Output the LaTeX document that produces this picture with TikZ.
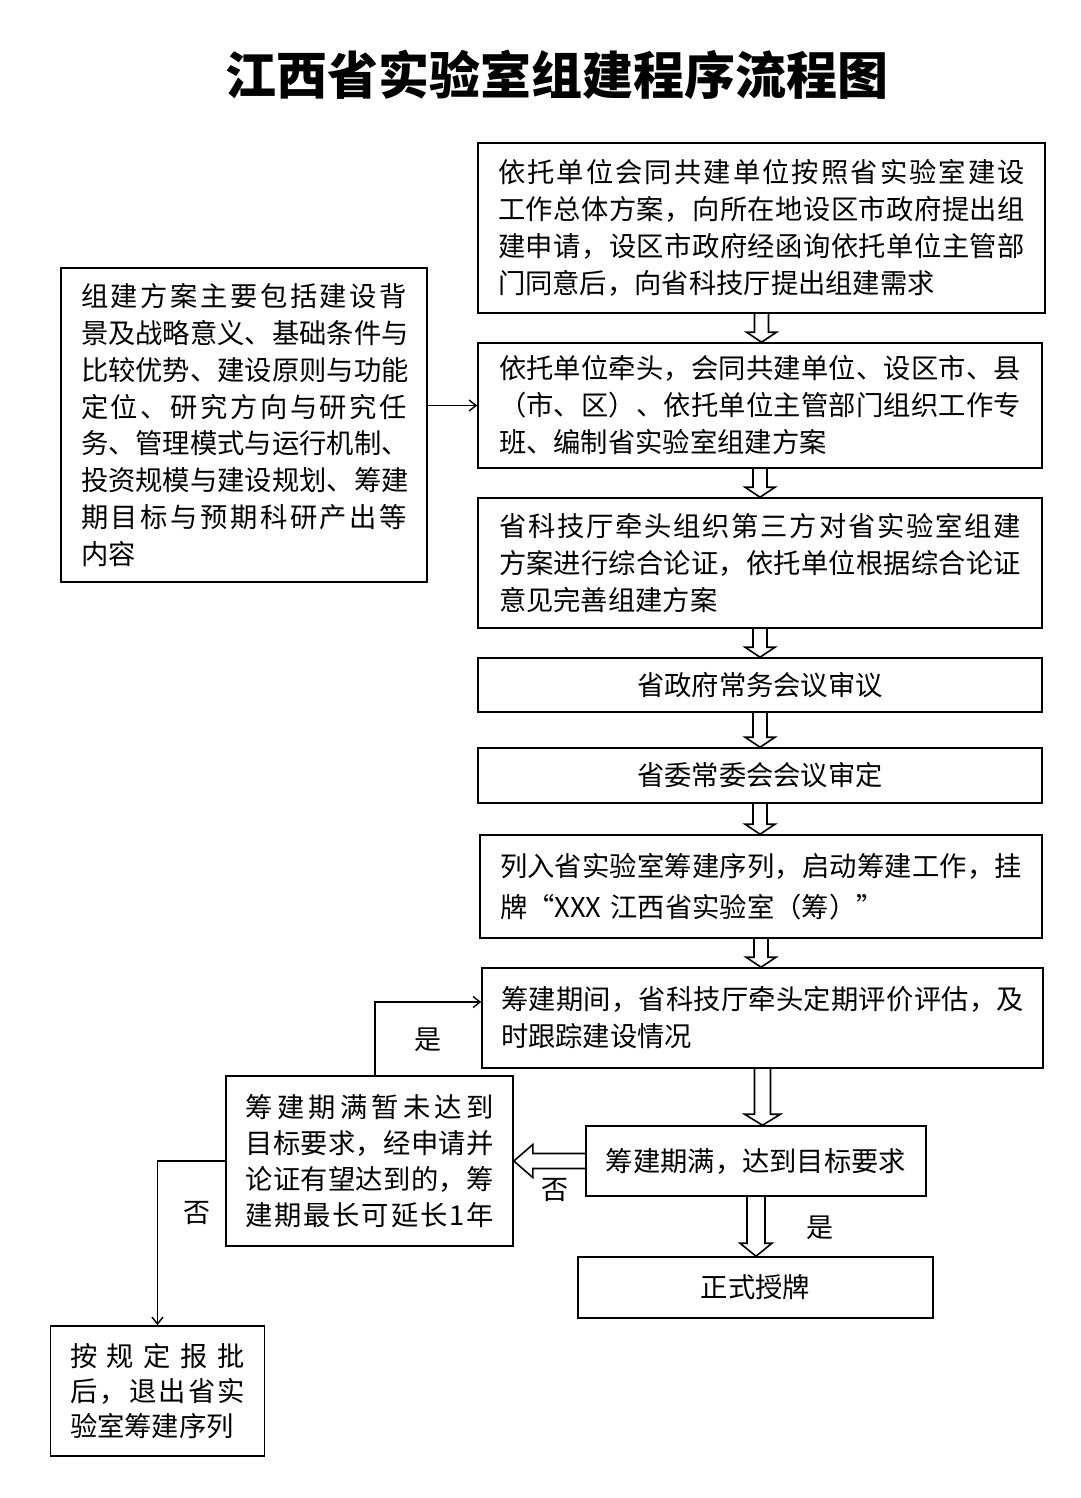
\documentclass[tikz,border=0pt]{standalone}
\usepackage{fontspec}
\setmainfont{Noto Sans CJK SC}
\usetikzlibrary{calc,arrows.meta}
\def\jsEnd{}
\def\jsA#1{#1\jsB}
\def\jsB#1{\ifx#1\jsEnd\else\hfil#1\expandafter\jsB\fi}
\newcommand\jl[1]{\makebox[\linewidth][s]{\jsA#1\jsEnd}}
\newcommand\blockdown[5]{%
  \draw[blk] let \p1=(#1.south), \p2=(#2.north) in
    (\x1-#3pt,\y1) -- (\x1-#3pt,\y2+#5pt) -- (\x1-#4pt,\y2+#5pt) -- (\x1,\y2)
    -- (\x1+#4pt,\y2+#5pt) -- (\x1+#3pt,\y2+#5pt) -- (\x1+#3pt,\y1);}
\newcommand\blockleft[5]{%
  \draw[blk] let \p1=(#1.west), \p2=(#2.east) in
    (\x1,\y1+#3pt) -- (\x2+#5pt,\y1+#3pt) -- (\x2+#5pt,\y1+#4pt) -- (\x2,\y1)
    -- (\x2+#5pt,\y1-#4pt) -- (\x2+#5pt,\y1-#3pt) -- (\x1,\y1-#3pt);}
\tikzset{
  box/.style={draw, line width=1.6pt, inner sep=0pt, font=\fontsize{27.3pt}{37pt}\selectfont},
  para/.style={box, align=left},
  blk/.style={line width=1.6pt, line join=miter},
  thin/.style={line width=1.6pt, -{Straight Barb[length=7pt,width=11pt,line width=1.4pt]}},
  lbl/.style={font=\fontsize{27pt}{27pt}\selectfont, inner sep=0pt},
}
\begin{document}
\begin{tikzpicture}[x=1pt,y=-1pt]
\useasboundingbox[fill=white] (0,0) rectangle (1080,1498);

\node[font=\fontsize{51pt}{51pt}\selectfont\bfseries, inner sep=0pt] (title) at (557,75) {江西省实验室组建程序流程图};

\node[para, minimum width=567pt, minimum height=170pt, text width=527pt] (A) at (761.5,228)
 {\jl{依托单位会同共建单位按照省实验室建设}\\\jl{工作总体方案，向所在地设区市政府提出组}\\\jl{建申请，设区市政府经函询依托单位主管部}\\门同意后，向省科技厅提出组建需求};

\node[para, minimum width=564pt, minimum height=125pt, text width=522pt] (B) at (760,405.5)
 {\jl{依托单位牵头，会同共建单位、设区市、县}\\\jl{（市、区）、依托单位主管部门组织工作专}\\班、编制省实验室组建方案};

\node[para, minimum width=564pt, minimum height=130pt, text width=522pt] (C) at (760,563)
 {\jl{省科技厅牵头组织第三方对省实验室组建}\\\jl{方案进行综合论证，依托单位根据综合论证}\\意见完善组建方案};

\node[box, minimum width=564pt, minimum height=54pt] (D) at (760,685) {省政府常务会议审议};
\node[box, minimum width=564pt, minimum height=55pt] (E) at (760,775.5) {省委常委会会议审定};

\node[para, minimum width=562pt, minimum height=103pt, text width=522pt, font=\fontsize{27.3pt}{41pt}\selectfont] (F) at (761,886.5)
 {\jl{列入省实验室筹建序列，启动筹建工作，挂}\\牌“XXX 江西省实验室（筹）”};

\node[para, minimum width=561pt, minimum height=100pt, text width=523pt] (G) at (762.5,1018)
 {\jl{筹建期间，省科技厅牵头定期评价评估，及}\\时跟踪建设情况};

\node[box, minimum width=340pt, minimum height=70pt] (H) at (756,1161) {筹建期满，达到目标要求};
\node[box, minimum width=355pt, minimum height=61pt] (I) at (755.5,1287.5) {正式授牌};

\node[para, minimum width=287pt, minimum height=170pt, text width=248pt, font=\fontsize{27.3pt}{36pt}\selectfont] (J) at (369.5,1161)
 {\jl{筹建期满暂未达到}\\\jl{目标要求，经申请并}\\\jl{论证有望达到的，筹}\\\jl{建期最长可延长1年}};

\node[para, minimum width=214pt, minimum height=130pt, text width=175pt, font=\fontsize{27.3pt}{35pt}\selectfont] (K) at (157.5,1391)
 {\jl{按规定报批}\\\jl{后，退出省实}\\验室筹建序列};

\node[para, minimum width=366pt, minimum height=314pt, text width=326pt, font=\fontsize{27.3pt}{36.8pt}\selectfont] (L) at (244,425)
 {\jl{组建方案主要包括建设背}\\\jl{景及战略意义、基础条件与}\\\jl{比较优势、建设原则与功能}\\\jl{定位、研究方向与研究任}\\\jl{务、管理模式与运行机制、}\\\jl{投资规模与建设规划、筹建}\\\jl{期目标与预期科研产出等}\\内容};

% block arrows
\blockdown{A}{B}{7}{15}{10}
\blockdown{B}{C}{7}{15}{10}
\blockdown{C}{D}{7}{15}{10}
\blockdown{D}{E}{7}{15}{10}
\blockdown{E}{F}{7}{15}{10}
\blockdown{F}{G}{7}{15}{10}
\blockdown{G}{H}{8}{18}{11}
\blockdown{H}{I}{9}{16}{13}
\blockleft{H}{J}{7.5}{16.5}{19}

% thin connectors
\draw[thin] (B.west -| L.east) -- (B.west);
\draw[thin] ([xshift=5.5pt]J.north) |- ([yshift=16pt]G.west);
\draw[thin] (J.west) -| (K.north);

% labels
\node[lbl] (l1) at (428,1040) {是};
\node[lbl] (l2) at (555,1190) {否};
\node[lbl] (l3) at (197,1213) {否};
\node[lbl] (l4) at (820,1228) {是};
\end{tikzpicture}
\end{document}
